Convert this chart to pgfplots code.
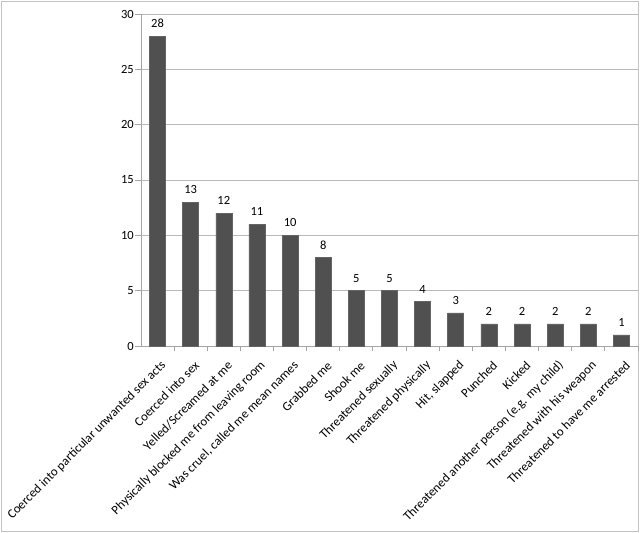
\documentclass[border=0pt]{standalone}
\usepackage{fontspec}
\setmainfont{Carlito}
\usepackage{pgfplots}
\pgfplotsset{compat=1.18}
\definecolor{barfill}{RGB}{80,80,80}
\definecolor{baredge}{RGB}{100,100,100}
\definecolor{gridc}{RGB}{185,185,185}
\definecolor{axisc}{RGB}{165,165,165}
\definecolor{borderc}{RGB}{195,195,195}
\begin{document}
\begin{tikzpicture}
\useasboundingbox (0,0) rectangle (640bp,-533bp);
\fill[white] (0,0) rectangle (640bp,-533bp);
\draw[borderc, line width=1.2bp] (1.2bp,-1.2bp) rectangle (638.8bp,-531.8bp);
\begin{axis}[
  at={(141bp,-346bp)}, anchor=south west,
  scale only axis, width=497bp, height=332bp,
  ybar, bar width=16bp,
  xmin=-0.5, xmax=14.5, ymin=0, ymax=30,
  ytick={0,5,...,30},
  xtick={0,...,14},
  xticklabels={Coerced into particular unwanted sex acts, Coerced into sex, Yelled/Screamed at me, Physically blocked me from leaving room, {Was cruel, called me mean names}, Grabbed me, Shook me, Threatened sexually, Threatened physically, {Hit, slapped}, Punched, Kicked, Threatened another person (e.g. my child), Threatened with his weapon, Threatened to have me arrested},
  minor xtick={0.5,1.5,...,14.5},
  axis x line*=bottom, axis y line*=left,
  axis line style={axisc, line width=1bp},
  tick align=outside,
  major tick length=6bp, minor tick length=5bp,
  major x tick style={draw=none},
  minor x tick style={axisc, line width=1bp},
  y tick style={axisc, line width=1bp},
  ymajorgrids,
  major grid style={gridc, line width=1bp},
  tick label style={font=\fontsize{12.8bp}{15bp}\selectfont, text=black},
  /pgf/number format/assume math mode=true,
  xticklabel style={rotate=45, anchor=east, inner sep=1bp, xshift=-2.5bp, yshift=-12.5bp},
  yticklabel style={inner sep=1bp, font=\fontsize{12.5bp}{15bp}\selectfont},
  nodes near coords,
  every node near coord/.append style={font=\fontsize{12.5bp}{15bp}\selectfont, inner sep=0pt, yshift=8bp, text=black},
  clip=false,
]
\addplot[fill=barfill, draw=baredge, line width=0.6bp] coordinates {
(0,28) (1,13) (2,12) (3,11) (4,10) (5,8) (6,5) (7,5) (8,4) (9,3) (10,2) (11,2) (12,2) (13,2) (14,1)};
\end{axis}
\end{tikzpicture}
\end{document}
